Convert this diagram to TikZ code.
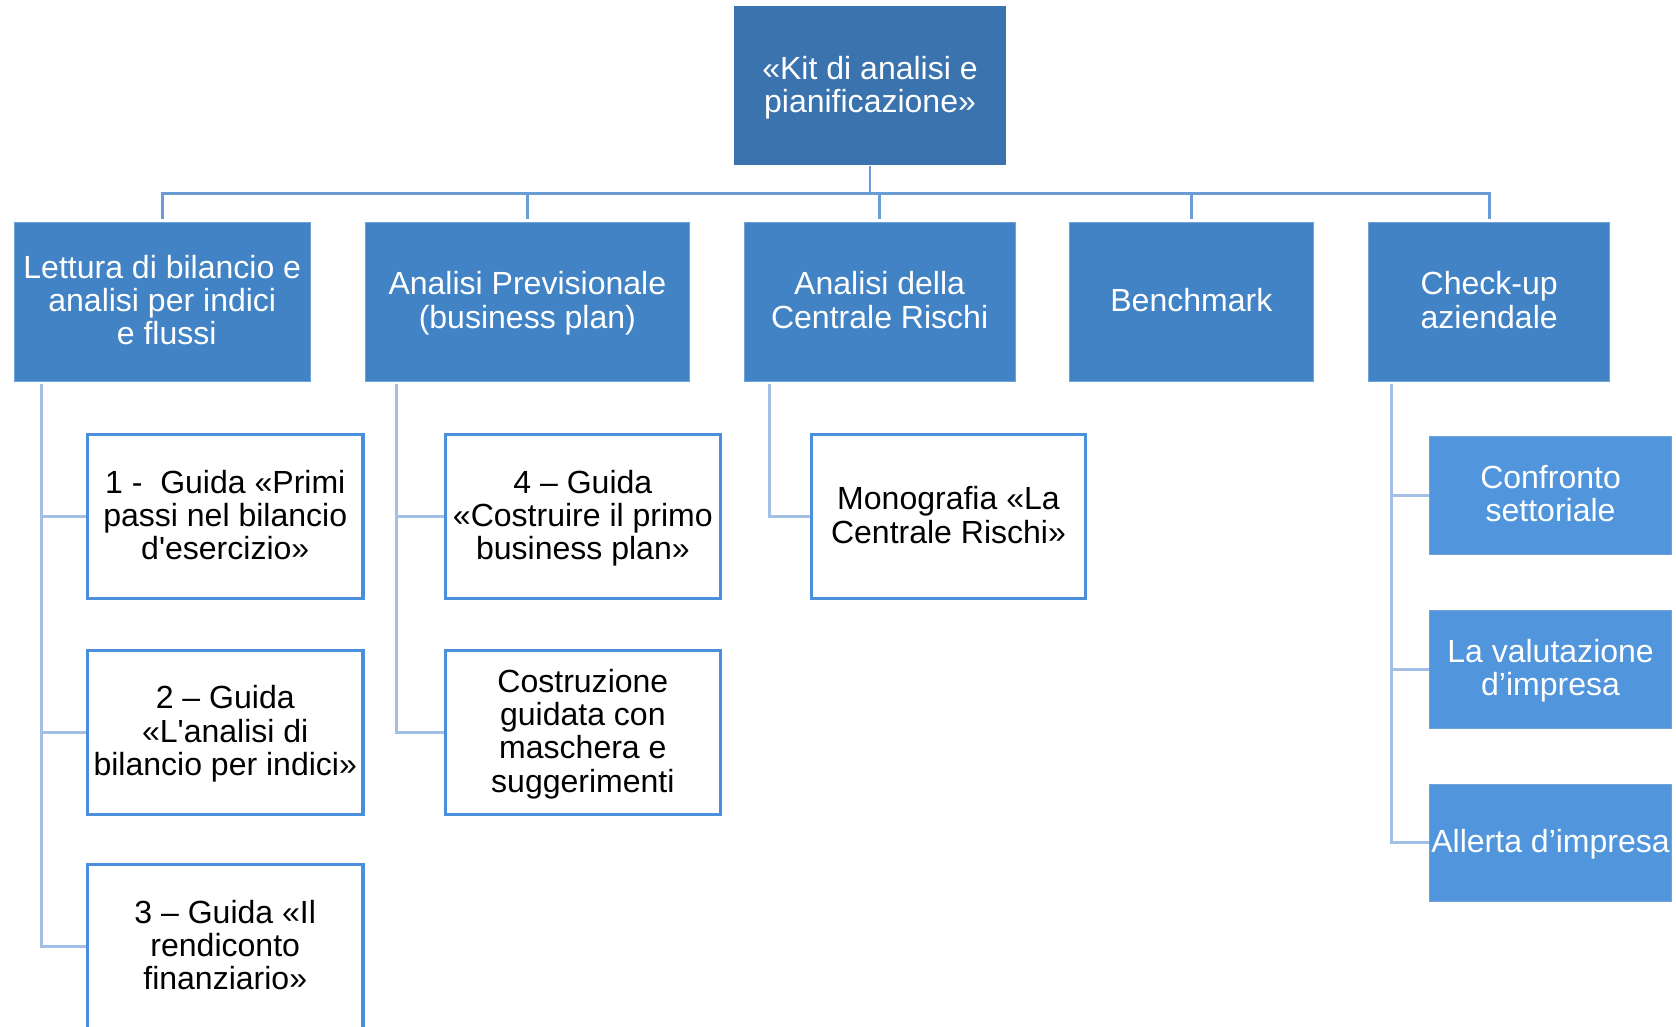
\documentclass[tikz,border=0pt]{standalone}
\usepackage{fontspec}
\setmainfont{Liberation Sans}
\usetikzlibrary{calc}
\definecolor{topblue}{HTML}{3B73AE}
\definecolor{midblue}{HTML}{4283C6}
\definecolor{liteblue}{HTML}{5195DC}
\definecolor{edgeblue}{HTML}{6FA2D8}
\definecolor{connblue}{HTML}{6C9CD8}
\definecolor{subblue}{HTML}{A3BFE5}
\definecolor{boxline}{HTML}{4A8FDB}
\begin{document}
\begin{tikzpicture}[x=0.5pt,y=-0.5pt,
  txt/.style={font=\fontsize{15}{15.6}\selectfont, align=center, inner sep=0pt, text depth=1.7pt},
  topbox/.style={txt, fill=topblue, text=white, minimum width=127pt, minimum height=74.5pt},
  mainbox/.style={txt, fill=midblue, draw=edgeblue, line width=0.5pt, text=white, minimum height=74.5pt},
  guidebox/.style={txt, fill=white, draw=boxline, line width=1.5pt, text=black, minimum width=129pt, minimum height=77pt},
  sidebox/.style={txt, fill=liteblue, draw=edgeblue, line width=0.5pt, text=white, minimum width=113.5pt, minimum height=55pt},
  conn/.style={draw=connblue, line width=1.3pt},
  sub/.style={draw=subblue, line width=1.5pt}]
\useasboundingbox (0,0) rectangle (1570,962);

% top
\node[topbox] (top) at (815,80.5) {«Kit di analisi e\\pianificazione»};

% level 1
\node[mainbox, minimum width=138.5pt] (l1) at (152,282.5) {Lettura di bilancio e\\analisi per indici\\\ e flussi};
\node[mainbox, minimum width=152pt] (l2) at (494,282.5) {Analisi Previsionale\\(business plan)};
\node[mainbox, minimum width=127pt] (l3) at (824,282.5) {Analisi della\\Centrale Rischi};
\node[mainbox, minimum width=114.5pt] (l4) at (1116,282.5) {Benchmark};
\node[mainbox, minimum width=113pt] (l5) at (1395,282.5) {Check-up\\aziendale};

% children of l1
\node[guidebox] (c11) at (211,484) {1 -\ \ Guida «Primi\\passi nel bilancio\\d\textquotesingle esercizio»};
\node[guidebox] (c12) at (211,686) {2 – Guida\\«L\textquotesingle analisi di\\bilancio per indici»};
\node[guidebox] (c13) at (211,887) {3 – Guida «Il\\rendiconto\\finanziario»};

% children of l2
\node[guidebox] (c21) at (546,484) {4 – Guida\\«Costruire il primo\\business plan»};
\node[guidebox] (c22) at (546,686) {Costruzione\\guidata con\\maschera e\\suggerimenti};

% child of l3
\node[guidebox, minimum width=128.5pt] (c31) at (888.5,484) {Monografia «La\\Centrale Rischi»};

% children of l5
\node[sidebox] (c51) at (1452.5,464) {Confronto\\settoriale};
\node[sidebox] (c52) at (1452.5,627) {La valutazione\\d’impresa};
\node[sidebox] (c53) at (1452.5,789.5) {Allerta d’impresa};

% main connectors
\coordinate (bus) at (815,181);
\foreach \n in {l1,l2,l3,l4,l5}
  \draw[conn, shorten >=1pt] (top.south) -- (top.south |- bus) -| (\n.north);

% sub connectors
\draw[sub] ($(l1.south west)+(26,2)$) |- (c11.west);
\draw[sub] ($(l1.south west)+(26,2)$) |- (c12.west);
\draw[sub] ($(l1.south west)+(26,2)$) |- (c13.west);
\draw[sub] ($(l2.south west)+(30,2)$) |- (c21.west);
\draw[sub] ($(l2.south west)+(30,2)$) |- (c22.west);
\draw[sub] ($(l3.south west)+(24,2)$) |- (c31.west);
\draw[sub] ($(l5.south west)+(22,2)$) |- (c51.west);
\draw[sub] ($(l5.south west)+(22,2)$) |- (c52.west);
\draw[sub] ($(l5.south west)+(22,2)$) |- (c53.west);
\end{tikzpicture}
\end{document}
